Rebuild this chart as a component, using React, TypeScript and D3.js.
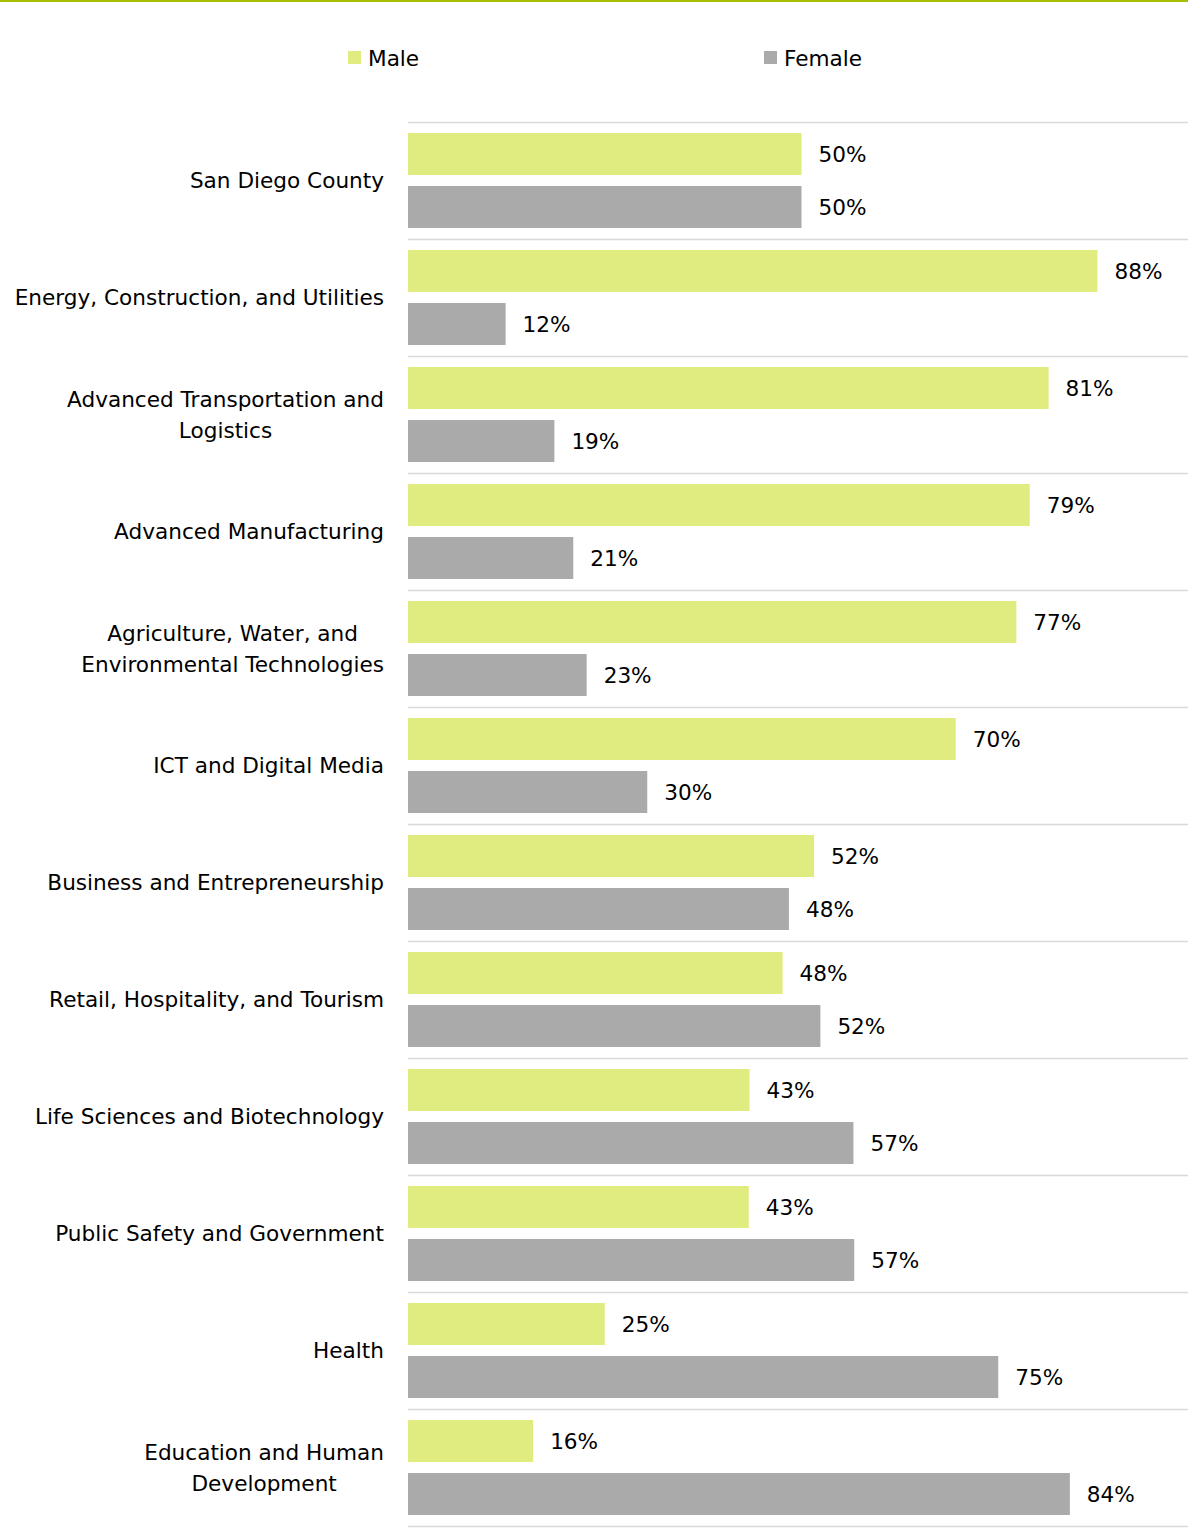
import React from "react";
import * as d3 from "d3";

const categories: string[][] = [
  ["San Diego County"],
  ["Energy, Construction, and Utilities"],
  ["Advanced Transportation and", "Logistics"],
  ["Advanced Manufacturing"],
  ["Agriculture, Water, and", "Environmental Technologies"],
  ["ICT and Digital Media"],
  ["Business and Entrepreneurship"],
  ["Retail, Hospitality, and Tourism"],
  ["Life Sciences and Biotechnology"],
  ["Public Safety and Government"],
  ["Health"],
  ["Education and Human", "Development"],
];
const maleValues = [50, 87.6, 81.4, 79.0, 77.3, 69.6, 51.6, 47.6, 43.4, 43.3, 25.0, 15.9];
const femaleValues = [50, 12.4, 18.6, 21.0, 22.7, 30.4, 48.4, 52.4, 56.6, 56.7, 75.0, 84.1];
const seriesNames = ["Male", "Female"];
const seriesColors = ["#e1ec80", "#aaaaaa"];

const W = 1188;
const H = 1533;
const FONT_NAME = "DejaVu Sans";
const FONT = `'${FONT_NAME}', sans-serif`;
const FS = 21.6;

let measureCtx: CanvasRenderingContext2D | null = null;
function measure(t: string): number {
  if (!measureCtx) {
    const c = document.createElement("canvas");
    measureCtx = c.getContext("2d");
  }
  if (!measureCtx) return t.length * FS * 0.55;
  measureCtx.font = `${FS}px '${FONT_NAME}'`;
  return measureCtx.measureText(t).width;
}

export default function App() {
  const keys = categories.map((_, i) => String(i));
  const y = d3.scaleBand<string>().domain(keys).range([122, 1526]).padding(0);
  const inner = d3
    .scaleBand<string>()
    .domain(seriesNames)
    .range([0, y.bandwidth()])
    .paddingInner(11 / 53)
    .paddingOuter(11 / 53);
  const x = d3.scaleLinear().domain([0, 100]).range([408, 408 + 787]);
  const fmt = (v: number) => `${Math.round(v)}%`;
  const gridYs = [...keys.map((k) => y(k) as number), 1526];
  const series = [maleValues, femaleValues];
  const labelRight = 384;

  return (
    <svg
      width={W}
      height={H}
      style={{ position: "absolute", left: 0, top: 0, display: "block", background: "#fff" }}
      fontFamily={FONT}
    >
      <rect x={0} y={0} width={W} height={H} fill="#fff" />
      <line x1={0} x2={W} y1={1} y2={1} stroke="#a9bd00" strokeWidth={2} />
      {/* legend */}
      {seriesNames.map((s, i) => {
        const lx = i === 0 ? 348 : 764;
        return (
          <g key={s}>
            <rect x={lx} y={51} width={13} height={13} fill={seriesColors[i]} />
            <text x={lx + 20} y={66} fontSize={FS} fill="#000">
              {s}
            </text>
          </g>
        );
      })}
      {/* grid lines */}
      {gridYs.map((gy, i) => (
        <line key={i} x1={408} x2={W} y1={gy + 0.5} y2={gy + 0.5} stroke="#d9d9d9" strokeWidth={1.5} />
      ))}
      {/* bars */}
      {keys.map((k, ci) => (
        <g key={k} transform={`translate(0,${y(k)})`}>
          {seriesNames.map((s, si) => {
            const v = series[si][ci];
            const by = inner(s) as number;
            return (
              <g key={s}>
                <rect x={x(0)} y={by} width={x(v) - x(0)} height={inner.bandwidth()} fill={seriesColors[si]} />
                <text
                  x={x(v) + 17}
                  y={by + inner.bandwidth() / 2}
                  dy="0.35em"
                  fontSize={FS}
                  fill="#000"
                >
                  {fmt(v)}
                </text>
              </g>
            );
          })}
        </g>
      ))}
      {/* category labels */}
      {keys.map((k, ci) => {
        const lines = categories[ci];
        const cy = (y(k) as number) + y.bandwidth() / 2;
        const lh = 31;
        const top = cy - ((lines.length - 1) * lh) / 2;
        const maxW = Math.max(...lines.map(measure));
        const cx = labelRight - maxW / 2;
        return (
          <text key={k} fontSize={FS} fill="#000" textAnchor="middle">
            {lines.map((ln, li) => (
              <tspan key={li} x={cx} y={top + li * lh} dy="0.35em">
                {ln}
              </tspan>
            ))}
          </text>
        );
      })}
    </svg>
  );
}
